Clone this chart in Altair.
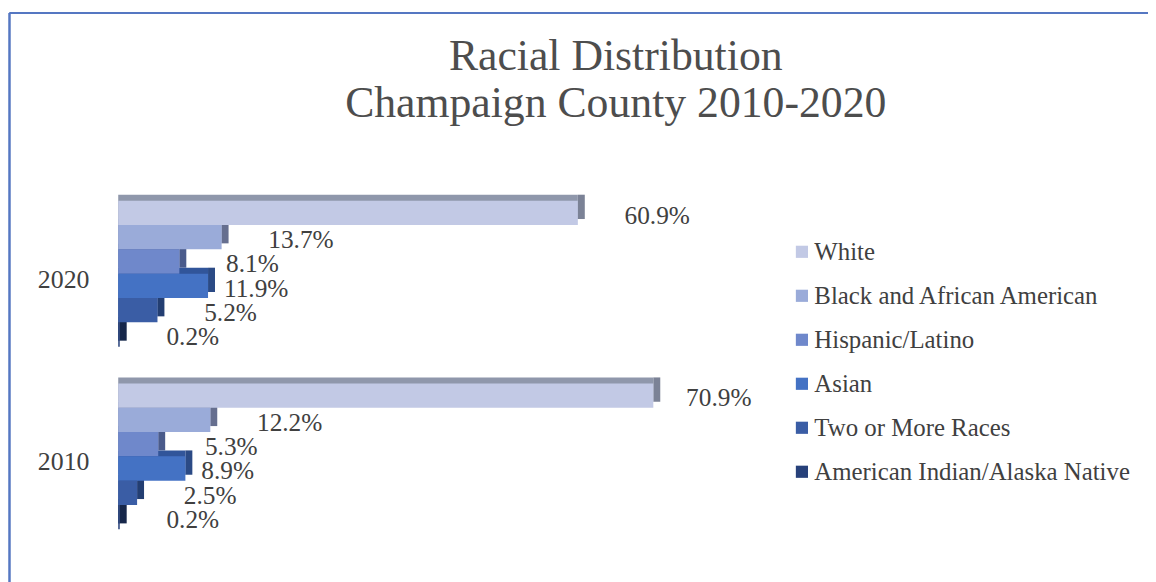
import altair as alt
import pandas as pd

races = ["White", "Black and African American", "Hispanic/Latino", "Asian",
         "Two or More Races", "American Indian/Alaska Native"]
years = ["2020", "2010"]
values_2020 = [60.9, 13.7, 8.1, 11.9, 5.2, 0.2]
values_2010 = [70.9, 12.2, 5.3, 8.9, 2.5, 0.2]

front_colors = ["#c2c9e5", "#9aabd9", "#6f88cb", "#4472c4", "#3a5da5", "#27417a"]
side_colors = ["#7b8296", "#666f8f", "#4a5b8b", "#2b4a85", "#233e72", "#16274a"]
top_colors = ["#8f97ab", "#7d89ad", "#56689c", "#31559a", "#2c4a86", "#1d3260"]

rows = []
for yr, vals in zip(years, [values_2020, values_2010]):
    for r, v in zip(races, vals):
        rows.append({"year": yr, "race": r, "value": v})
df = pd.DataFrame(rows)

FONT = "Liberation Serif"
TXT = "#404040"

x_scale = alt.Scale(domain=[0, 100], range=[111, 871])


def yo_scale():
    return alt.Scale(type="band", domain=races, paddingInner=0, paddingOuter=0)


def yscale(shift):
    return alt.Scale(type="band", domain=years, range=[52 + shift, 383 + shift],
                     paddingInner=37 / 184, paddingOuter=0)


base = alt.Chart(df)

side = base.mark_bar(x2Offset=7).encode(
    x=alt.X("value:Q", scale=x_scale, axis=None),
    x2="value:Q",
    y=alt.Y("year:N", scale=yscale(-6), axis=None),
    yOffset=alt.YOffset("race:N", scale=yo_scale()),
    color=alt.Color("race:N", scale=alt.Scale(domain=races, range=side_colors), legend=None),
)

top = base.mark_bar().encode(
    x=alt.X("value:Q", scale=x_scale, axis=None),
    y=alt.Y("year:N", scale=yscale(-6), axis=None),
    yOffset=alt.YOffset("race:N", scale=yo_scale()),
    color=alt.Color("race:N", scale=alt.Scale(domain=races, range=top_colors), legend=None),
)

front = base.mark_bar().encode(
    x=alt.X("value:Q", scale=x_scale, axis=None),
    y=alt.Y("year:N", scale=yscale(0), axis=None),
    yOffset=alt.YOffset("race:N", scale=yo_scale()),
    color=alt.Color(
        "race:N",
        scale=alt.Scale(domain=races, range=front_colors),
        legend=alt.Legend(
            title=None, orient="none", legendX=787, legendY=91,
            symbolType="square", symbolSize=150, symbolStrokeWidth=0,
            labelFont=FONT, labelFontSize=25, labelColor=TXT, labelLimit=500,
            labelOffset=0, rowPadding=18.3, padding=0,
        ),
    ),
)


def labels(filt, dx):
    return base.transform_filter(filt).transform_calculate(
        label="format(datum.value, '.1f') + '%'"
    ).mark_text(align="left", baseline="middle", dx=dx, dy=3,
                font=FONT, fontSize=25.5, color=TXT).encode(
        x=alt.X("value:Q", scale=x_scale, axis=None),
        y=alt.Y("year:N", scale=yscale(0), axis=None),
        yOffset=alt.YOffset("race:N", scale=yo_scale()),
        text="label:N",
    )


lab_main = labels("datum.race != 'Asian' && !(datum.race == 'White' && datum.year == '2010')", 47)
lab_asian = labels("datum.race == 'Asian'", 16)
lab_white10 = labels("datum.race == 'White' && datum.year == '2010'", 33)

year_df = pd.DataFrame({"year": years})
year_lab = alt.Chart(year_df).mark_text(
    align="right", baseline="middle", dy=6, font=FONT, fontSize=26, color=TXT
).encode(
    x=alt.value(82),
    y=alt.Y("year:N", scale=yscale(0), axis=None),
    text="year:N",
)

border_left = alt.Chart(year_df).mark_rule(color="#5577c2", strokeWidth=2).encode(
    x=alt.value(1.5), y=alt.value(-137), y2=alt.value(440)
)
border_top = alt.Chart(year_df).mark_rule(color="#5577c2", strokeWidth=2).encode(
    x=alt.value(1.5), x2=alt.value(1160), y=alt.value(-137)
)

chart = alt.layer(
    border_left, border_top, side, top, front, lab_main, lab_asian, lab_white10, year_lab
).resolve_scale(
    y="independent", yOffset="independent", color="independent"
).properties(
    width=1148, height=434,
    autosize=alt.AutoSizeParams(type="none"),
    padding={"top": 140, "left": 0, "right": 0, "bottom": 0},
    title=alt.Title(
        text=["Racial Distribution", "Champaign County 2010-2020"],
        font=FONT, fontSize=44, fontWeight="normal", color="#4d4d4d",
        anchor="middle", frame="group", dx=38, lineHeight=48, offset=-115,
    ),
).configure(background="white", view={"stroke": None})

chart.save("out.html", embed_options={"renderer": "svg", "actions": False})
